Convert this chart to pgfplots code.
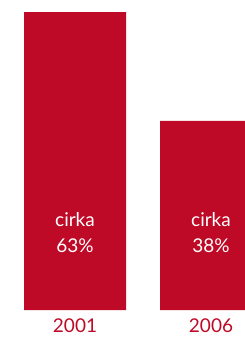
\documentclass[border=0pt]{standalone}
\usepackage{pgfplots}
\pgfplotsset{compat=1.18}
\usepackage{fontspec}
\setmainfont{Lato}
\definecolor{barred}{RGB}{190,10,38}
\begin{document}
\begin{tikzpicture}[x=1pt,y=1pt]
\begin{axis}[
  at={(0pt,27pt)}, anchor=south west,
  scale only axis, width=245pt, height=310pt,
  xmin=0, xmax=245, ymin=0, ymax=65.54,
  axis line style={draw=none}, tick style={draw=none},
  ytick=\empty,
  xtick={75,211}, xticklabels={2001,2006},
  xticklabel style={text=barred, font=\fontsize{19}{21}\selectfont, inner ysep=0.5pt, yshift=-4pt},
  ybar, bar width=102, bar shift=0pt,
  clip=true,
]
\addplot[fill=barred, draw=none] coordinates {(75,63) (211,40)};
\node[anchor=base, text=white, font=\fontsize{19}{21}\selectfont] at (axis cs:75,17.55) {cirka};
\node[anchor=base, text=white, font=\fontsize{19}{21}\selectfont] at (axis cs:75,12.26) {63\%};
\node[anchor=base, text=white, font=\fontsize{19}{21}\selectfont] at (axis cs:211,17.55) {cirka};
\node[anchor=base, text=white, font=\fontsize{19}{21}\selectfont] at (axis cs:211,12.26) {38\%};
\end{axis}
\pgfresetboundingbox
\path (0,0) rectangle (245pt,337pt);
\end{tikzpicture}
\end{document}
